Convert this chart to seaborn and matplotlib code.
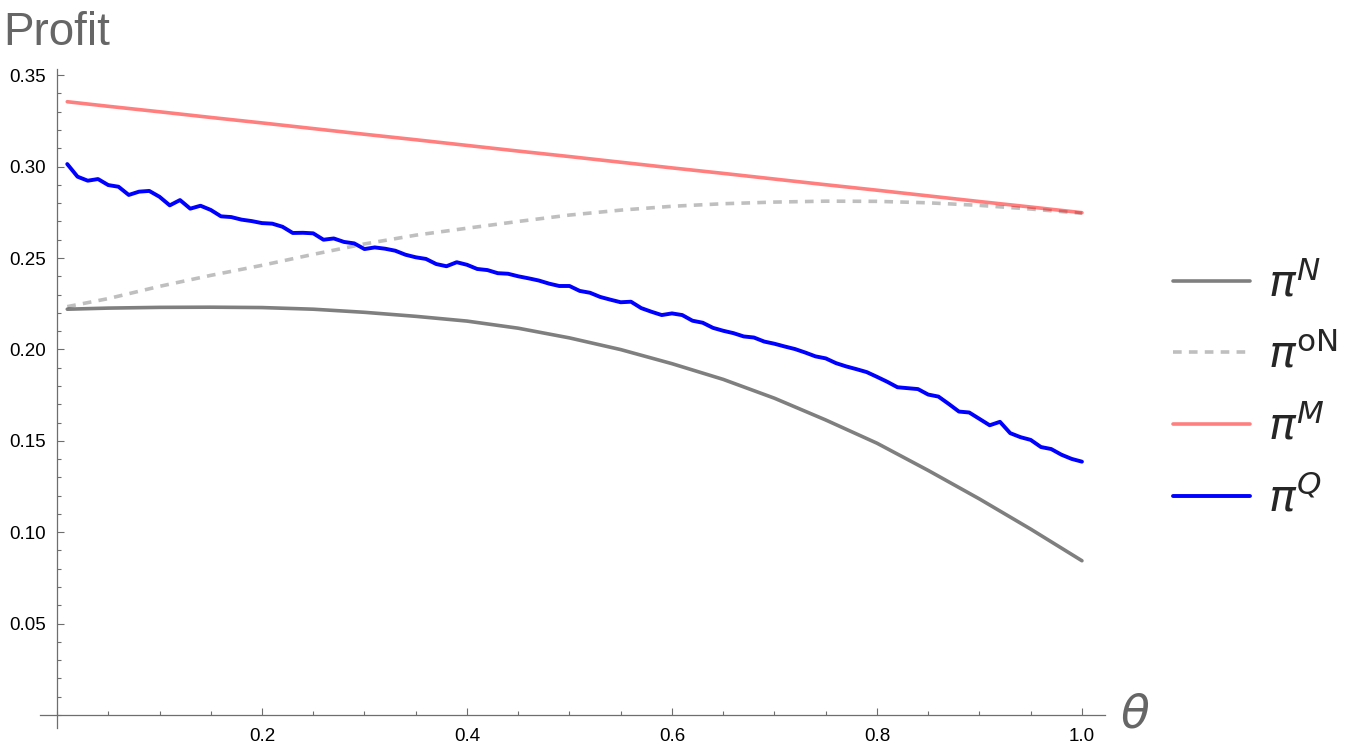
import numpy as np
import pandas as pd
import matplotlib
matplotlib.use("Agg")
import matplotlib.pyplot as plt
import seaborn as sns
from matplotlib.ticker import FixedLocator, MultipleLocator

# =========================================
# Data
# =========================================
theta_smooth = [0.01, 0.05, 0.10, 0.15, 0.20, 0.25, 0.30, 0.35, 0.40, 0.45, 0.50,
                0.55, 0.60, 0.65, 0.70, 0.75, 0.80, 0.85, 0.90, 0.95, 1.00]

profit_n = [0.2220, 0.2226, 0.2230, 0.2231, 0.2229, 0.2220, 0.2203, 0.2181, 0.2155, 0.2116, 0.2063,
            0.1999, 0.1922, 0.1836, 0.1733, 0.1614, 0.1487, 0.1338, 0.1182, 0.1017, 0.0844]

profit_on = [0.2234, 0.2278, 0.2345, 0.2405, 0.2460, 0.2520, 0.2577, 0.2625, 0.2663, 0.2700, 0.2735,
             0.2762, 0.2783, 0.2797, 0.2806, 0.2811, 0.2810, 0.2802, 0.2788, 0.2768, 0.2745]

profit_m = [0.3355, 0.3330, 0.3300, 0.3269, 0.3239, 0.3208, 0.3177, 0.3147, 0.3116, 0.3085, 0.3055,
            0.3024, 0.2993, 0.2963, 0.2932, 0.2901, 0.2871, 0.2840, 0.2809, 0.2779, 0.2748]

theta_q = np.round(np.arange(1, 101) * 0.01, 2)
profit_q = [0.3014, 0.2945, 0.2923, 0.2932, 0.2899, 0.2890, 0.2845, 0.2863, 0.2867, 0.2835,
            0.2788, 0.2817, 0.2770, 0.2786, 0.2763, 0.2728, 0.2724, 0.2710, 0.2702, 0.2691,
            0.2688, 0.2671, 0.2637, 0.2638, 0.2635, 0.2600, 0.2607, 0.2588, 0.2580, 0.2549,
            0.2558, 0.2551, 0.2540, 0.2518, 0.2504, 0.2495, 0.2467, 0.2455, 0.2477, 0.2463,
            0.2440, 0.2434, 0.2417, 0.2414, 0.2400, 0.2389, 0.2377, 0.2360, 0.2347, 0.2347,
            0.2320, 0.2310, 0.2287, 0.2272, 0.2258, 0.2261, 0.2226, 0.2206, 0.2188, 0.2197,
            0.2188, 0.2157, 0.2146, 0.2118, 0.2102, 0.2089, 0.2071, 0.2065, 0.2043, 0.2031,
            0.2016, 0.2002, 0.1983, 0.1962, 0.1951, 0.1925, 0.1907, 0.1892, 0.1876, 0.1850,
            0.1823, 0.1793, 0.1788, 0.1783, 0.1753, 0.1742, 0.1702, 0.1660, 0.1655, 0.1620,
            0.1585, 0.1604, 0.1542, 0.1520, 0.1505, 0.1466, 0.1455, 0.1424, 0.1401, 0.1386]

series_labels = [r'$\pi^{N}$', r'$\pi^{\mathrm{oN}}$', r'$\pi^{M}$', r'$\pi^{Q}$']

x_ticks = [0.2, 0.4, 0.6, 0.8, 1.0]
x_tick_labels = ['0.2', '0.4', '0.6', '0.8', '1.0']
y_ticks = [0.05, 0.10, 0.15, 0.20, 0.25, 0.30, 0.35]
y_tick_labels = ['0.05', '0.10', '0.15', '0.20', '0.25', '0.30', '0.35']

df_smooth = pd.DataFrame({'theta': theta_smooth, 'n': profit_n, 'on': profit_on, 'm': profit_m})
df_q = pd.DataFrame({'theta': theta_q, 'q': profit_q})

# =========================================
# Style
# =========================================
sns.set_theme(style='white')
plt.rcParams['font.family'] = ['Liberation Sans', 'DejaVu Sans']
plt.rcParams['mathtext.fontset'] = 'dejavusans'

axis_gray = '#6e6e6e'
label_gray = '#666666'

fig = plt.figure(figsize=(13.6, 7.52), dpi=100)
ax = fig.add_axes([40 / 1360, 1 - 728 / 752, 1065 / 1360, 659 / 752])

sns.lineplot(data=df_smooth, x='theta', y='n', ax=ax, color='black', alpha=0.5,
             lw=2.6, label=series_labels[0])
sns.lineplot(data=df_smooth, x='theta', y='on', ax=ax, color='black', alpha=0.25,
             lw=2.6, linestyle=(0, (2.4, 2.0)), label=series_labels[1])
sns.lineplot(data=df_smooth, x='theta', y='m', ax=ax, color='red', alpha=0.5,
             lw=2.6, label=series_labels[2])
sns.lineplot(data=df_q, x='theta', y='q', ax=ax, color='#0000ff',
             lw=2.8, label=series_labels[3])

ax.set_xlim(-0.0166, 1.0225)
ax.set_ylim(-0.0071, 0.3534)

# axes through the origin, Mathematica style
for side in ['top', 'right']:
    ax.spines[side].set_visible(False)
ax.spines['left'].set_position(('data', 0))
ax.spines['bottom'].set_position(('data', 0))
for side in ['left', 'bottom']:
    ax.spines[side].set_color(axis_gray)
    ax.spines[side].set_linewidth(0.9)

ax.xaxis.set_major_locator(FixedLocator(x_ticks))
ax.set_xticklabels(x_tick_labels)
ax.yaxis.set_major_locator(FixedLocator(y_ticks))
ax.set_yticklabels(y_tick_labels)
ax.xaxis.set_minor_locator(MultipleLocator(0.05))
ax.yaxis.set_minor_locator(MultipleLocator(0.01))

ax.tick_params(which='both', direction='in', color=axis_gray, width=0.8,
               labelsize=13.5, labelcolor='black')
ax.tick_params(which='major', length=5.2)
ax.tick_params(which='minor', length=2.6)
ax.tick_params(axis='x', which='both', bottom=True, pad=9)
ax.tick_params(axis='y', which='both', left=True, pad=8)

ax.set_xlabel('')
ax.set_ylabel('')

fig.text(3 / 1360, 1 - 45 / 752, 'Profit', fontsize=33, color=label_gray,
         ha='left', va='baseline')
fig.text(1120 / 1360, 1 - 716 / 752, r'$\theta$', fontsize=34, color=label_gray,
         ha='left', va='center')

ax.legend(loc='center left', bbox_to_anchor=(1173 / 1360, 1 - 391 / 752),
          bbox_transform=fig.transFigure, frameon=False, fontsize=32,
          handlelength=1.73, handletextpad=0.4, labelspacing=0.62,
          borderpad=0, borderaxespad=0)

fig.savefig('out.png', dpi=100)
